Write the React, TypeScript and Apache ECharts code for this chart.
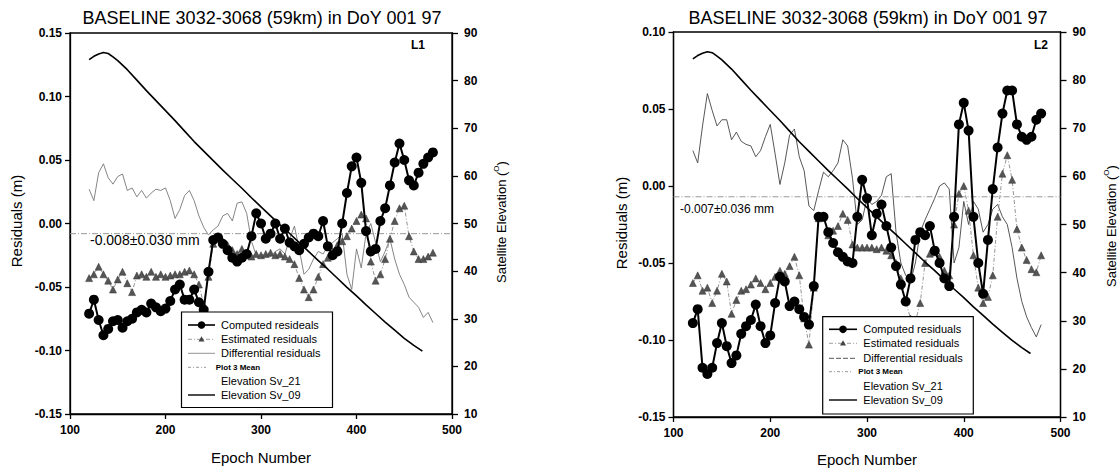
import React, { useEffect, useRef } from 'react';
import * as echarts from 'echarts';

const FONT = "'Liberation Sans', Arial, Helvetica, sans-serif";
const TITLE = 'BASELINE 3032-3068 (59km) in DoY 001 97';

// Epoch numbers (x) shared by the residual series
const EPOCHS = [
  120, 125, 130, 135, 140, 145, 150, 155, 160, 165,
  170, 175, 180, 185, 190, 195, 200, 205, 210, 215,
  220, 225, 230, 235, 240, 245, 250, 255, 260, 265,
  270, 275, 280, 285, 290, 295, 300, 305, 310, 315,
  320, 325, 330, 335, 340, 345, 350, 355, 360, 365,
  370, 375, 380, 385, 390, 395, 400, 405, 410, 415,
  420, 425, 430, 435, 440, 445, 450, 455, 460, 465,
  470, 475, 480,
];

// ---- L1 panel (left) ----
const L1_COMPUTED = [
  -0.071, -0.060, -0.076, -0.088, -0.083, -0.077, -0.076, -0.082, -0.077, -0.075,
  -0.070, -0.068, -0.070, -0.063, -0.066, -0.069, -0.067, -0.061, -0.052, -0.048,
  -0.060, -0.060, -0.052, -0.062, -0.068, -0.038, -0.013, -0.011, -0.016, -0.021,
  -0.027, -0.030, -0.027, -0.024, -0.010, 0.008, 0.000, -0.012, -0.008, 0.000,
  -0.012, -0.004, -0.015, -0.018, -0.021, -0.016, -0.011, -0.008, -0.010, 0.002,
  -0.018, -0.025, -0.022, 0.000, 0.024, 0.045, 0.052, 0.032, -0.006, -0.022,
  -0.020, 0.002, 0.012, 0.030, 0.048, 0.063, 0.050, 0.034, 0.030, 0.040,
  0.047, 0.052, 0.056,
];
const L1_ESTIMATED = [
  -0.043, -0.040, -0.034, -0.040, -0.045, -0.052, -0.044, -0.038, -0.047, -0.054,
  -0.041, -0.040, -0.042, -0.038, -0.042, -0.040, -0.042, -0.041, -0.040, -0.040,
  -0.038, -0.037, -0.040, -0.048, -0.064, -0.042, -0.016, -0.011, -0.014, -0.017,
  -0.021, -0.024, -0.020, -0.025, -0.026, -0.024, -0.025, -0.024, -0.023, -0.025,
  -0.024, -0.026, -0.028, -0.032, -0.043, -0.052, -0.058, -0.052, -0.042, -0.032,
  -0.027, -0.022, -0.017, -0.014, -0.010, -0.004, 0.002, 0.007, 0.004, -0.030,
  -0.045, -0.040, -0.028, -0.012, 0.002, 0.012, 0.014, -0.010, -0.022, -0.028,
  -0.028, -0.026, -0.023,
];
const L1_DIFFERENTIAL = [
  0.027, 0.018, 0.040, 0.047, 0.036, 0.031, 0.037, 0.039, 0.026, 0.028,
  0.021, 0.026, 0.020, 0.024, 0.027, 0.026, 0.028, 0.018, 0.004, 0.011,
  0.022, 0.026, 0.018, 0.006, -0.003, -0.009, -0.005, -0.002, 0.006, 0.008,
  0.002, 0.016, 0.017, 0.008, -0.014, -0.025, -0.027, -0.024, -0.026, -0.022,
  -0.020, -0.024, -0.012, -0.002, -0.020, -0.040, -0.036, -0.028, -0.022, -0.024,
  -0.018, -0.015, -0.012, -0.008, -0.040, -0.052, -0.020, -0.035, -0.008, 0.000,
  -0.015, -0.030, -0.022, -0.012, -0.028, -0.040, -0.048, -0.058, -0.062, -0.066,
  -0.074, -0.070, -0.078,
];
const L1_MEAN = -0.008;
const L1_MEAN_LABEL = '-0.008±0.030 mm';

// ---- L2 panel (right) ----
const L2_COMPUTED = [
  -0.089, -0.080, -0.118, -0.122, -0.118, -0.102, -0.089, -0.104, -0.115, -0.110,
  -0.096, -0.091, -0.087, -0.077, -0.091, -0.102, -0.097, -0.076, -0.059, -0.062,
  -0.078, -0.075, -0.080, -0.085, -0.090, -0.065, -0.020, -0.020, -0.030, -0.037,
  -0.043, -0.046, -0.049, -0.050, -0.020, 0.004, -0.008, -0.032, -0.018, -0.012,
  -0.026, -0.040, -0.052, -0.064, -0.075, -0.060, -0.035, -0.030, -0.032, -0.026,
  -0.042, -0.050, -0.060, -0.065, -0.020, 0.040, 0.054, 0.036, -0.020, -0.050,
  -0.070, -0.035, -0.002, 0.025, 0.047, 0.062, 0.062, 0.040, 0.032, 0.030,
  0.032, 0.043, 0.047,
];
const L2_ESTIMATED = [
  -0.063, -0.058, -0.068, -0.066, -0.076, -0.068, -0.057, -0.062, -0.083, -0.074,
  -0.068, -0.067, -0.064, -0.060, -0.063, -0.067, -0.063, -0.059, -0.055, -0.057,
  -0.052, -0.046, -0.058, -0.086, -0.103, -0.066, -0.021, -0.020, -0.032, -0.029,
  -0.026, -0.018, -0.022, -0.038, -0.040, -0.040, -0.040, -0.040, -0.041, -0.040,
  -0.042, -0.045, -0.050, -0.060, -0.075, -0.086, -0.088, -0.076, -0.050, -0.044,
  -0.043, -0.046, -0.055, -0.058, -0.025, -0.005, 0.000, -0.016, -0.045, -0.066,
  -0.076, -0.072, -0.058, -0.020, 0.008, 0.020, 0.004, -0.028, -0.040, -0.048,
  -0.054, -0.056, -0.045,
];
const L2_DIFFERENTIAL = [
  0.023, 0.015, 0.039, 0.060, 0.049, 0.039, 0.043, 0.043, 0.030, 0.035,
  0.029, 0.027, 0.026, 0.019, 0.023, 0.032, 0.040, 0.021, 0.001, 0.015,
  0.033, 0.037, 0.019, 0.010, -0.013, -0.016, -0.003, 0.009, 0.006, 0.010,
  0.015, 0.030, 0.026, 0.005, -0.025, -0.022, -0.008, -0.012, -0.010, -0.006,
  0.006, 0.008, -0.030, -0.050, -0.058, -0.062, -0.050, -0.030, -0.022, -0.015,
  -0.008, 0.000, 0.002, -0.002, -0.050, -0.040, -0.010, -0.025, -0.010, -0.015,
  -0.030, -0.025, -0.015, -0.012, -0.020, -0.025, -0.040, -0.060, -0.075, -0.085,
  -0.092, -0.098, -0.090,
];
const L2_MEAN = -0.007;
const L2_MEAN_LABEL = '-0.007±0.036 mm';

// ---- Elevation of Sv_09 (degrees), same in both panels ----
const ELEV_EPOCHS = [
  120, 125, 130, 135, 140, 145, 150, 160, 170, 180, 190, 200, 210, 220, 230, 240,
  250, 260, 270, 280, 290, 300, 310, 320, 330, 340, 350, 360, 370, 380, 390, 400,
  410, 420, 430, 440, 450, 460, 469,
];
const ELEV_SV09 = [
  84.4, 85.1, 85.6, 85.9, 85.7, 85.0, 84.2, 82.3, 80.1, 77.9, 75.8, 73.7, 71.6, 69.4, 67.2, 65.2,
  63.2, 61.2, 59.3, 57.4, 55.4, 53.5, 51.6, 49.7, 47.9, 46.0, 44.1, 42.2, 40.4, 38.5, 36.6, 34.8,
  32.9, 31.1, 29.3, 27.6, 25.9, 24.4, 23.2,
];

const RES_TICK_STEP = 0.05;
const ELEV_MIN = 10;
const ELEV_MAX = 90;
const ELEV_STEP = 10;
const EPOCH_MIN = 100;
const EPOCH_MAX = 500;
const EPOCH_STEP = 100;

const pairs = (xs: number[], ys: number[]) => xs.map((x, i) => [x, ys[i]]);

const fmtRes = (v: number) => (Math.abs(v) < 1e-9 ? '0.00' : v.toFixed(2));

const axisLineStyle = { color: '#000', width: 1.3 };
const tickLabel = { color: '#000', fontSize: 12, fontWeight: 'bold', fontFamily: FONT };

function panelAxes(i: number, resMin: number, resMax: number) {
  const x = {
    type: 'value', gridIndex: i, min: EPOCH_MIN, max: EPOCH_MAX, interval: EPOCH_STEP,
    axisLine: { show: true, onZero: false, lineStyle: axisLineStyle },
    axisTick: { show: true, inside: false, length: 5, lineStyle: axisLineStyle },
    axisLabel: { ...tickLabel, margin: 10 },
    splitLine: { show: false },
  };
  const yRes = {
    type: 'value', gridIndex: i, position: 'left', min: resMin, max: resMax, interval: RES_TICK_STEP,
    axisLine: { show: true, onZero: false, lineStyle: axisLineStyle },
    axisTick: { show: true, inside: false, length: 5, lineStyle: axisLineStyle },
    axisLabel: { ...tickLabel, margin: 8, formatter: fmtRes },
    splitLine: { show: false },
  };
  const yElev = {
    type: 'value', gridIndex: i, position: 'right', min: ELEV_MIN, max: ELEV_MAX, interval: ELEV_STEP,
    axisLine: { show: true, onZero: false, lineStyle: axisLineStyle },
    axisTick: { show: true, inside: false, length: 6, lineStyle: axisLineStyle },
    axisLabel: { ...tickLabel, margin: 12 },
    splitLine: { show: false },
  };
  return { x, yRes, yElev };
}

function panelSeries(
  i: number, computed: number[], estimated: number[], differential: number[], mean: number,
  diffColor: string, diffDash: any,
) {
  const xi = i;
  const yr = i * 2;
  const ye = i * 2 + 1;
  return [
    {
      name: 'Differential residuals', type: 'line', xAxisIndex: xi, yAxisIndex: yr,
      data: pairs(EPOCHS, differential), symbol: 'none', silent: true, z: 1,
      lineStyle: { color: diffColor, width: 0.9, type: diffDash },
    },
    {
      name: 'Plot 3 Mean', type: 'line', xAxisIndex: xi, yAxisIndex: yr,
      data: [[EPOCH_MIN, mean], [EPOCH_MAX, mean]], symbol: 'none', silent: true, z: 1,
      lineStyle: { color: '#999', width: 1, type: [6, 2, 1, 2] },
    },
    {
      name: 'Estimated residuals', type: 'line', xAxisIndex: xi, yAxisIndex: yr,
      data: pairs(EPOCHS, estimated), symbol: 'triangle', symbolSize: 7, silent: true, z: 2,
      itemStyle: { color: '#555', borderColor: '#333', borderWidth: 0.5 },
      lineStyle: { color: '#888', width: 0.9, type: [4, 2, 1, 2] },
    },
    {
      name: 'Computed residuals', type: 'line', xAxisIndex: xi, yAxisIndex: yr,
      data: pairs(EPOCHS, computed), symbol: 'circle', symbolSize: 10, silent: true, z: 3,
      itemStyle: { color: '#000' },
      lineStyle: { color: '#000', width: 2 },
    },
    {
      name: 'Elevation Sv_09', type: 'line', xAxisIndex: xi, yAxisIndex: ye,
      data: pairs(ELEV_EPOCHS, ELEV_SV09), symbol: 'none', silent: true, z: 4,
      lineStyle: { color: '#000', width: 1.6 },
    },
  ];
}

function text(x: number, y: number, t: string, extra: any = {}, elExtra: any = {}) {
  return {
    type: 'text', x, y, z: 100, silent: true, ...elExtra,
    style: {
      text: t, fill: '#000', fontFamily: FONT, fontSize: 12,
      align: 'left', verticalAlign: 'middle', ...extra,
    },
  };
}

function line(x1: number, y1: number, x2: number, y2: number, stroke: string, width: number, dash?: any) {
  return {
    type: 'line', z: 100, silent: true,
    shape: { x1, y1, x2, y2 },
    style: { stroke, lineWidth: width, lineDash: dash },
  };
}

function legend(
  bx: number, by: number, bw: number, bh: number, rows: number[],
  sx0: number, sx1: number, tx: number, meanTx: number, meanSx1: number,
  computedLabel: string, diffDash: any, diffColor: string,
) {
  const mid = (sx0 + sx1) / 2;
  const els: any[] = [
    {
      type: 'rect', z: 99, silent: true,
      shape: { x: bx, y: by, width: bw, height: bh },
      style: { fill: '#fff', stroke: '#000', lineWidth: 1.2 },
    },
    line(sx0, rows[0], sx1, rows[0], '#000', 1.6),
    { type: 'circle', z: 101, silent: true, shape: { cx: mid, cy: rows[0], r: 3.8 }, style: { fill: '#000' } },
    text(tx, rows[0], computedLabel, { fontSize: 11 }),
    line(sx0, rows[1], sx1, rows[1], '#888', 0.8, [4, 2, 1, 2]),
    {
      type: 'polygon', z: 101, silent: true,
      shape: { points: [[mid, rows[1] - 3], [mid - 3, rows[1] + 2.2], [mid + 3, rows[1] + 2.2]] },
      style: { fill: '#444' },
    },
    text(tx, rows[1], 'Estimated residuals', { fontSize: 11 }),
    line(sx0, rows[2], sx1, rows[2], diffColor, 0.9, diffDash),
    text(tx, rows[2], 'Differential residuals', { fontSize: 11 }),
    line(sx0, rows[3], meanSx1, rows[3], '#999', 1, [3, 2, 1, 2]),
    text(meanTx, rows[3], 'Plot 3 Mean', { fontSize: 8, fontWeight: 'bold' }),
    text(tx, rows[4], 'Elevation Sv_21', { fontSize: 11 }),
    line(sx0, rows[5], sx1, rows[5], '#000', 1.4),
    text(tx, rows[5], 'Elevation Sv_09', { fontSize: 11 }),
  ];
  return els;
}

function elevName(x: number, y: number) {
  return {
    type: 'text', x, y, z: 100, silent: true, rotation: Math.PI / 2,
    style: {
      text: '{a|Satellite Elevation (}{b|O}{a|)}',
      align: 'center', verticalAlign: 'middle', fill: '#000', fontFamily: FONT, fontSize: 13,
      rich: {
        a: { fontSize: 13, fontFamily: FONT, fill: '#000', lineHeight: 16, verticalAlign: 'bottom' },
        b: { fontSize: 8, fontFamily: FONT, fill: '#000', lineHeight: 16, verticalAlign: 'top' },
      },
    },
  };
}

export default function App() {
  const ref = useRef<HTMLDivElement>(null);

  useEffect(() => {
    if (!ref.current) return;
    const chart = echarts.init(ref.current, undefined, { renderer: 'svg' });

    const a0 = panelAxes(0, -0.15, 0.15);
    const a1 = panelAxes(1, -0.15, 0.10);

    const gridBase = {
      show: true, borderColor: '#000', borderWidth: 1.3, backgroundColor: 'transparent',
      containLabel: false, outerBoundsMode: 'none',
    };

    const graphics: any[] = [
      // titles
      text(262, 18, TITLE, { fontSize: 18, align: 'center' }),
      text(868, 18, TITLE, { fontSize: 18, align: 'center' }),
      // axis names
      text(16, 221, 'Residuals (m)', { fontSize: 15, align: 'center' }, { rotation: Math.PI / 2 }),
      text(621, 223, 'Residuals (m)', { fontSize: 15, align: 'center' }, { rotation: Math.PI / 2 }),
      elevName(500, 222),
      elevName(1110, 226),
      text(261, 457, 'Epoch Number', { fontSize: 15, align: 'center' }),
      text(867, 459, 'Epoch Number', { fontSize: 15, align: 'center' }),
      // panel tags
      text(418, 45, 'L1', { fontSize: 12, fontWeight: 'bold', align: 'center' }),
      text(1041, 45, 'L2', { fontSize: 12, fontWeight: 'bold', align: 'center' }),
      // mean labels
      text(90, 240, L1_MEAN_LABEL, { fontSize: 14 }),
      text(680, 208.5, L2_MEAN_LABEL, { fontSize: 12 }),
      // legends
      ...legend(181.5, 312, 151, 95.5, [325, 339.3, 353.3, 367.3, 381, 395],
        188, 215, 221, 215.7, 206, 'Computed resideals', undefined, '#888'),
      ...legend(822.7, 316.7, 150.6, 97.3, [329.3, 343.3, 358.3, 371.7, 386, 400],
        829, 857, 863.3, 858.3, 853, 'Computed residuals', [5, 2], '#444'),
    ];

    chart.setOption({
      animation: false,
      backgroundColor: '#fff',
      textStyle: { fontFamily: FONT },
      grid: [
        { ...gridBase, left: 70, right: 1120 - 452, top: 33, bottom: 468 - 414 },
        { ...gridBase, left: 673.5, right: 1120 - 1060.5, top: 32, bottom: 468 - 417 },
      ],
      xAxis: [a0.x, a1.x],
      yAxis: [a0.yRes, a0.yElev, a1.yRes, a1.yElev],
      series: [
        ...panelSeries(0, L1_COMPUTED, L1_ESTIMATED, L1_DIFFERENTIAL, L1_MEAN, '#777', 'solid'),
        ...panelSeries(1, L2_COMPUTED, L2_ESTIMATED, L2_DIFFERENTIAL, L2_MEAN, '#444', 'solid'),
      ],
      graphic: graphics,
    });

    return () => {
      chart.dispose();
    };
  }, []);

  return (
    <div
      ref={ref}
      style={{ position: 'absolute', left: 0, top: 0, width: 1120, height: 468, background: '#fff' }}
    />
  );
}
